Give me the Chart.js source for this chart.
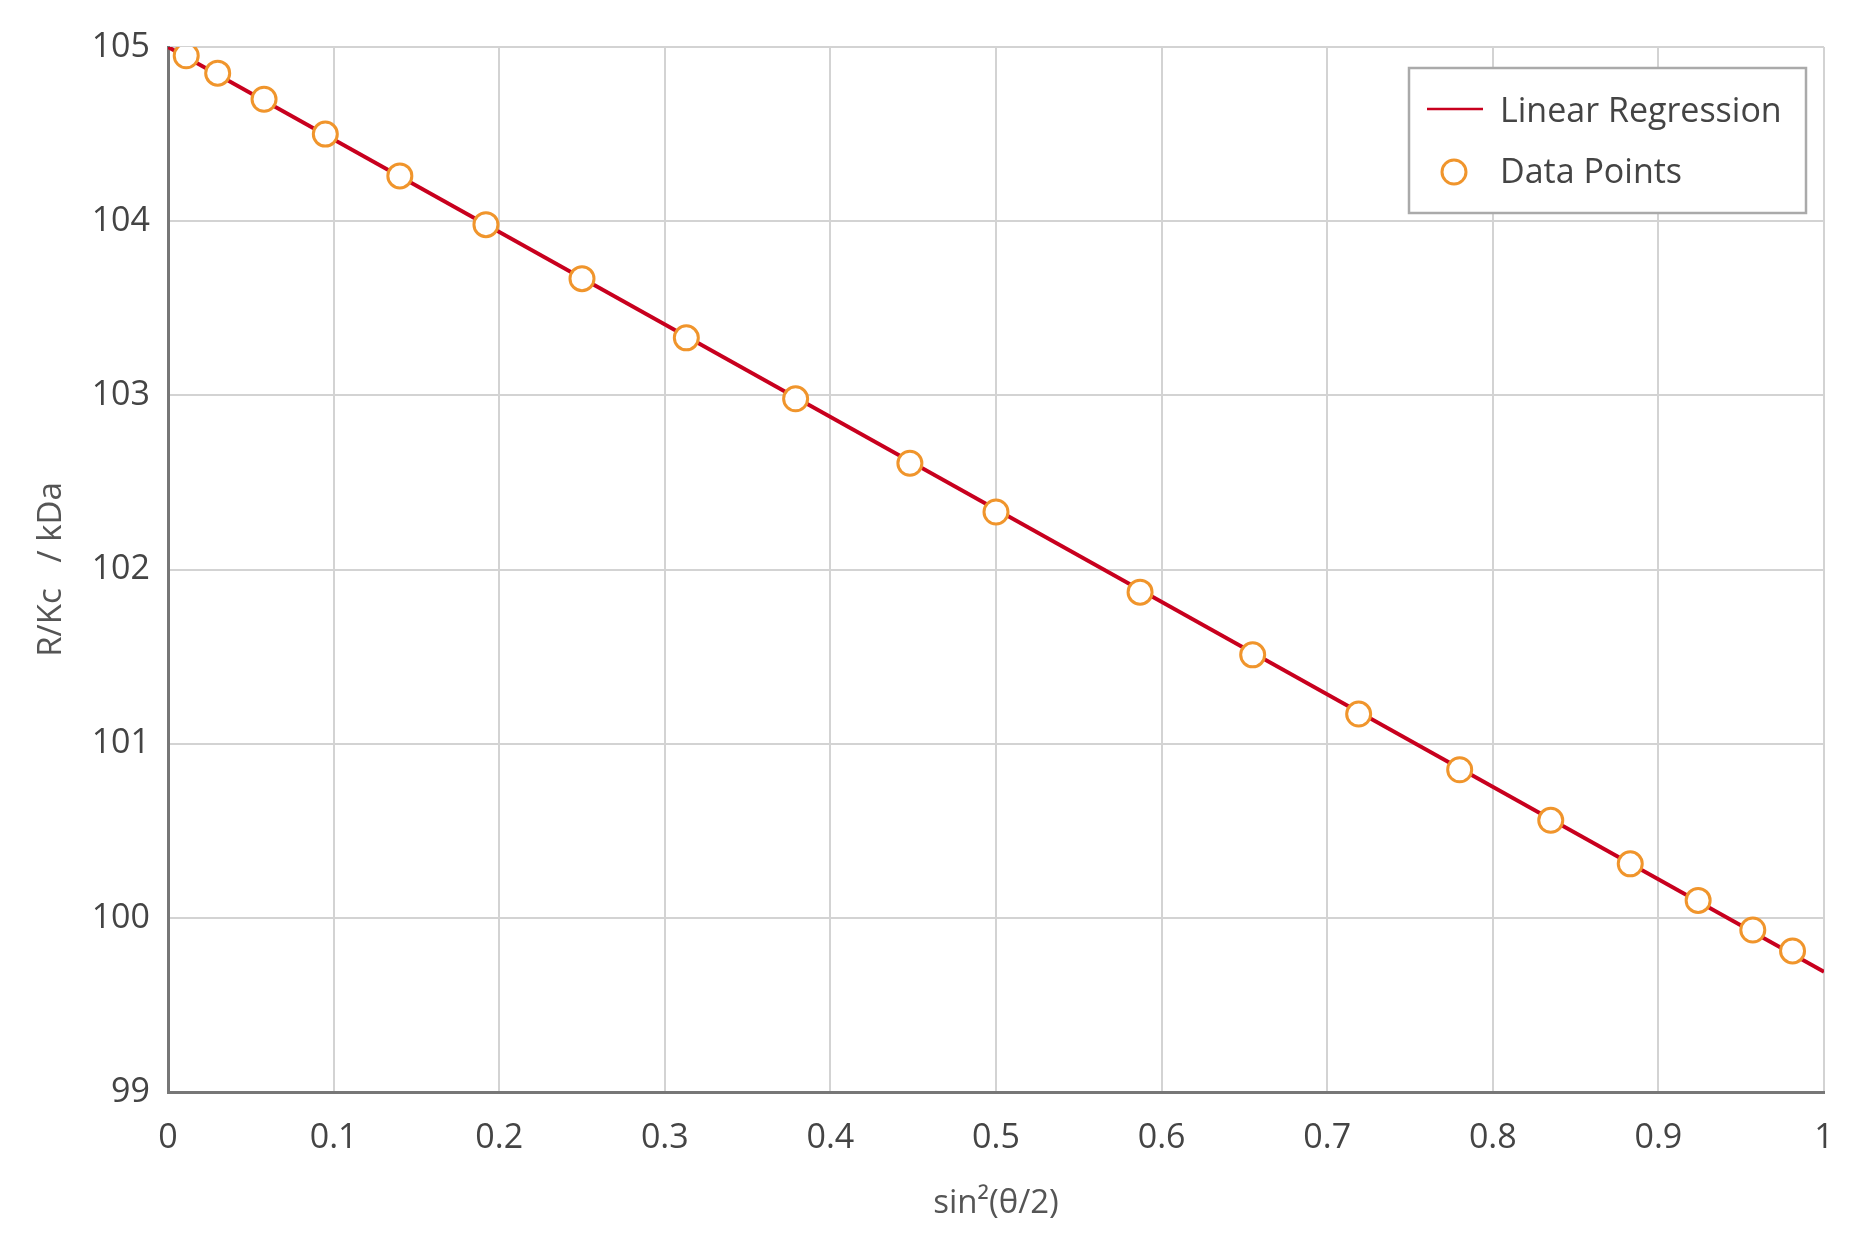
<!DOCTYPE html>
<html>
<head>
<meta charset="utf-8">
<title>Zimm plot</title>
<script src="https://cdn.jsdelivr.net/npm/chart.js@4.4.1/dist/chart.umd.min.js"></script>
<style>
    html, body { margin: 0; padding: 0; background: #fff; }
    #chart-wrap { width: 1875px; height: 1250px; }
</style>
</head>
<body>
<div id="chart-wrap"><canvas id="zimm-chart" width="1875" height="1250"></canvas></div>
<script>
// Data
const sinSqValues = [0.011, 0.030, 0.058, 0.095, 0.140, 0.192, 0.250, 0.313, 0.379, 0.448,
    0.500, 0.587, 0.655, 0.719, 0.780, 0.835, 0.883, 0.924, 0.957, 0.981];
const molarMassValues = [104.95, 104.85, 104.70, 104.50, 104.26, 103.98, 103.67, 103.33, 102.98, 102.61,
    102.33, 101.87, 101.51, 101.17, 100.85, 100.56, 100.31, 100.10, 99.93, 99.81];
const fitX = [0, 1];
const fitY = [105.0, 99.69];
const xTicks = [0, 0.1, 0.2, 0.3, 0.4, 0.5, 0.6, 0.7, 0.8, 0.9, 1];
const yTicks = [99, 100, 101, 102, 103, 104, 105];

const lineColor = '#c8001e';
const pointColor = '#f0952c';
const textColor = '#444444';
const gridColor = '#d3d3d3';
const fontFamily = '"Open Sans", "Noto Sans", sans-serif';

// Legend drawn inside the plot area, top right, with a grey frame
const boxedLegend = {
    id: 'boxedLegend',
    afterDraw(chart) {
        const { ctx, chartArea } = chart;
        const right = chartArea.right - 18;
        const top = chartArea.top + 21;
        const w = 397, h = 145;
        const left = right - w;
        ctx.save();
        ctx.fillStyle = '#ffffff';
        ctx.fillRect(left, top, w, h);
        ctx.strokeStyle = '#aaaaaa';
        ctx.lineWidth = 2.5;
        ctx.strokeRect(left, top, w, h);

        const row1 = top + 44, row2 = top + 105;
        ctx.strokeStyle = lineColor;
        ctx.lineWidth = 2.5;
        ctx.beginPath();
        ctx.moveTo(left + 18, row1 - 3);
        ctx.lineTo(left + 74, row1 - 3);
        ctx.stroke();

        ctx.strokeStyle = pointColor;
        ctx.fillStyle = '#ffffff';
        ctx.lineWidth = 3;
        ctx.beginPath();
        ctx.arc(left + 45, row2 - 1, 12, 0, Math.PI * 2);
        ctx.fill();
        ctx.stroke();

        ctx.fillStyle = textColor;
        ctx.font = '34px ' + fontFamily;
        ctx.textBaseline = 'middle';
        ctx.textAlign = 'left';
        ctx.fillText('Linear Regression', left + 91, row1);
        ctx.fillText('Data Points', left + 91, row2);
        ctx.restore();
    }
};

document.addEventListener('DOMContentLoaded', function () {
    const ctx = document.getElementById('zimm-chart').getContext('2d');

    const zimmChart = new Chart(ctx, {
        type: 'scatter',
        data: {
            datasets: [{
                label: 'Linear Regression',
                data: fitX.map((x, i) => ({ x: x, y: fitY[i] })),
                showLine: true,
                borderColor: lineColor,
                borderWidth: 4,
                pointRadius: 0,
                fill: false,
                order: 2
            }, {
                label: 'Data Points',
                data: sinSqValues.map((x, i) => ({ x: x, y: molarMassValues[i] })),
                showLine: false,
                borderColor: pointColor,
                backgroundColor: '#ffffff',
                borderWidth: 3,
                pointRadius: 12,
                order: 1
            }]
        },
        options: {
            responsive: false,
            animation: false,
            devicePixelRatio: 1,
            layout: {
                padding: { top: 47, right: 51, left: 0, bottom: 0 }
            },
            plugins: {
                legend: { display: false },
                tooltip: { enabled: false }
            },
            scales: {
                x: {
                    type: 'linear',
                    min: 0,
                    max: 1,
                    afterBuildTicks: (scale) => {
                        scale.ticks = xTicks.map(v => ({ value: v }));
                    },
                    afterFit: (scale) => { scale.height = 158; },
                    ticks: {
                        color: textColor,
                        padding: 26,
                        maxRotation: 0,
                        font: { family: fontFamily, size: 34 },
                        callback: (value) => String(Math.round(value * 10) / 10)
                    },
                    grid: {
                        color: gridColor,
                        lineWidth: 2,
                        drawTicks: false
                    },
                    border: { color: '#777777', width: 3 },
                    title: {
                        display: true,
                        text: 'sin²(θ/2)',
                        color: '#555555',
                        font: { family: fontFamily, size: 33 },
                        padding: { top: 0, bottom: 27 }
                    }
                },
                y: {
                    type: 'linear',
                    min: 99,
                    max: 105,
                    afterBuildTicks: (scale) => {
                        scale.ticks = yTicks.map(v => ({ value: v }));
                    },
                    afterFit: (scale) => { scale.width = 168; },
                    ticks: {
                        color: textColor,
                        padding: 18,
                        font: { family: fontFamily, size: 34 }
                    },
                    grid: {
                        color: gridColor,
                        lineWidth: 2,
                        drawTicks: false
                    },
                    border: { color: '#777777', width: 3 },
                    title: {
                        display: true,
                        text: 'R/Kc   / kDa',
                        color: '#555555',
                        font: { family: fontFamily, size: 33 },
                        padding: { top: 32, bottom: 0 }
                    }
                }
            }
        },
        plugins: [boxedLegend]
    });
});
</script>
</body>
</html>
